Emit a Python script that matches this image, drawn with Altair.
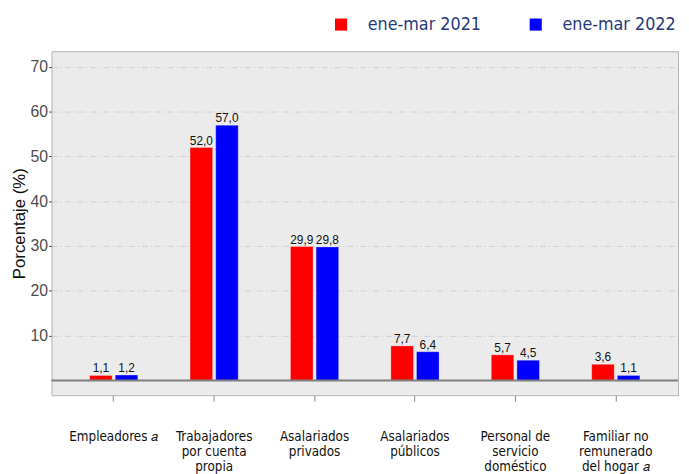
import altair as alt
import pandas as pd

categories = ["Empleadores 𝑎", "Trabajadores\npor cuenta\npropia", "Asalariados\nprivados",
              "Asalariados\npúblicos", "Personal de\nservicio\ndoméstico", "Familiar no\nremunerado\ndel hogar 𝑎"]
series = ["ene-mar 2021", "ene-mar 2022"]
v2021 = [1.1, 52.0, 29.9, 7.7, 5.7, 3.6]
v2022 = [1.2, 57.0, 29.8, 6.4, 4.5, 1.1]
y_ticks = [10, 20, 30, 40, 50, 60, 70]

rows = []
for c, a, b in zip(categories, v2021, v2022):
    rows.append({"cat": c, "serie": series[0], "val": a})
    rows.append({"cat": c, "serie": series[1], "val": b})
df = pd.DataFrame(rows)
df["lab"] = df["val"].map(lambda v: f"{v:.1f}".replace(".", ","))

LABEL_FONT = "Liberation Sans Narrow, DejaVu Sans Condensed, sans-serif"
ARIAL = "Liberation Sans, Arial, sans-serif"

xenc = alt.X("cat:N", sort=categories, title=None,
             scale=alt.Scale(paddingInner=0.52, paddingOuter=0.38),
             axis=alt.Axis(labelAngle=0, labelExpr="split(datum.label, '\\n')",
                           labelFont=LABEL_FONT, labelFontSize=13.5, labelColor="#111111",
                           labelPadding=36, labelLineHeight=15.2, tickColor="#888888",
                           tickSize=6, domain=False, grid=False, labelBaseline="middle"))
xoff = alt.XOffset("serie:N", sort=series, scale=alt.Scale(paddingInner=0.12, paddingOuter=0))
yenc = alt.Y("val:Q", title="Porcentaje (%)",
             scale=alt.Scale(domain=[-3.3, 73.5], nice=False, zero=False),
             axis=alt.Axis(values=y_ticks, labelFontSize=16, labelColor="#4d4d4d",
                           labelFont=ARIAL, labelPadding=1,
                           titleFont=ARIAL, titleFontSize=17,
                           titleFontWeight="normal", titleColor="#111111", titlePadding=2,
                           tickColor="#555555", tickSize=3, domain=False,
                           gridColor="#cfcfcf", gridDash=[6, 3, 1, 3], gridWidth=1))

base = alt.Chart(df)
bars = base.mark_bar(stroke="#ffffff", strokeWidth=0.3).encode(
    x=xenc, xOffset=xoff, y=yenc,
    y2=alt.datum(0),
    color=alt.Color("serie:N", sort=series,
                    scale=alt.Scale(domain=series, range=["#ff0000", "#0000ff"]),
                    legend=alt.Legend(title=None, orient="none", direction="horizontal",
                                      legendX=284, legendY=-36, symbolType="square",
                                      symbolSize=150, symbolStrokeWidth=0,
                                      labelFont=LABEL_FONT, labelFontSize=18,
                                      labelColor="#1f3a7a", labelOffset=18,
                                      columnPadding=46)),
)
texts = base.mark_text(dy=-7, fontSize=12, font=ARIAL,
                       color="#111111").encode(
    x=alt.X("cat:N", sort=categories), xOffset=alt.XOffset("serie:N", sort=series),
    y="val:Q", text="lab:N")
zero = alt.Chart(pd.DataFrame({"z": [0]})).mark_rule(color="#7f7f7f", strokeWidth=2).encode(
    y=alt.Y("z:Q"))

chart = alt.layer(bars, zero, texts).properties(
    width=634, height=348,
    autosize=alt.AutoSizeParams(type="none"),
    padding={"left": 44, "top": 41, "right": 3, "bottom": 77},
).configure(background="#ffffff").configure_view(fill="#ebebeb", stroke="#b3b3b3", strokeWidth=1)

chart.save("out.html", embed_options={"renderer": "svg", "actions": False})
